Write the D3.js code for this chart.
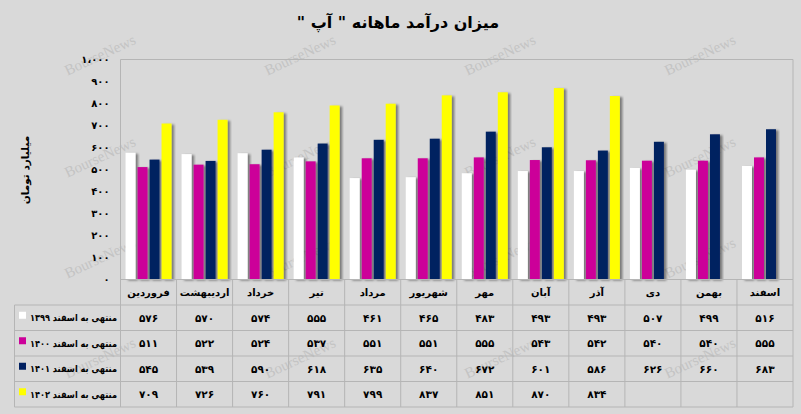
<!DOCTYPE html>
<html><head><meta charset="utf-8">
<script src="https://cdn.jsdelivr.net/npm/d3@7"></script>
<style>
html,body{margin:0;padding:0;background:#d9d9d9;}
svg{display:block;}
text{font-family:"DejaVu Sans",sans-serif;font-weight:bold;fill:#000;}
</style></head>
<body>
<svg id="chart" width="801" height="414"></svg>
<script>
const title = 'میزان درآمد ماهانه " آپ "';
const yTitle = "میلیارد تومان";
const months = ["فروردین","اردیبهشت","خرداد","تیر","مرداد","شهریور","مهر","آبان","آذر","دی","بهمن","اسفند"];
const seriesNames = ["منتهی به اسفند ۱۳۹۹","منتهی به اسفند ۱۴۰۰","منتهی به اسفند ۱۴۰۱","منتهی به اسفند ۱۴۰۲"];
const s1399 = [576,570,574,555,461,465,483,493,493,507,499,516];
const s1400 = [511,522,524,537,551,551,555,543,542,540,540,555];
const s1401 = [545,539,590,618,635,640,672,601,586,626,660,683];
const s1402 = [709,726,760,791,799,837,851,870,834,null,null,null];
const yTicks = [0,100,200,300,400,500,600,700,800,900,1000];
const colors = ["#ffffff","#cc0099","#002060","#ffff00"];

const seriesVals = [s1399,s1400,s1401,s1402];
const fa = s => String(s).replace(/[0-9]/g, d => "۰۱۲۳۴۵۶۷۸۹"[+d]).replace(/,/g,"،");

const svg = d3.select("#chart");
const W = 801, H = 414;
const plotL = 120.5, plotR = 793, plotT = 59.5, plotB = 279.5;
const tableL = 14.5, rowH = 25.5;

svg.append("rect").attr("width",W).attr("height",H).attr("fill","#d9d9d9");

// watermark
const wm = svg.append("g");
[100,300,500,700].forEach(cx => [55,157,258,358].forEach(cy => {
  wm.append("text").attr("transform",`translate(${cx},${cy}) rotate(-25)`)
    .attr("text-anchor","middle").attr("dominant-baseline","central")
    .style("font-family","'Liberation Serif',serif").style("font-weight","normal")
    .style("font-size","15px").style("fill","#c4c4c4").text("BourseNews");
}));

const defs = svg.append("defs");
const f = defs.append("filter").attr("id","sh").attr("x","-20%").attr("y","-5%").attr("width","160%").attr("height","110%");
f.append("feDropShadow").attr("dx",2.5).attr("dy",1).attr("stdDeviation",1.2)
  .attr("flood-color","#000").attr("flood-opacity",0.45);

const x = d3.scaleBand().domain(months).range([plotL, plotR]);
const x1 = d3.scaleBand().domain(d3.range(4)).range([0, x.bandwidth()]).paddingInner(0.17).paddingOuter(0.42);
const y = d3.scaleLinear().domain([0,1000]).range([plotB, plotT]);

// title
svg.append("text").attr("x",398).attr("y",22).attr("text-anchor","middle")
  .attr("dominant-baseline","central").attr("direction","rtl")
  .style("font-size","16px").text(title);

// y title
svg.append("text").attr("transform",`translate(25,170) rotate(-90)`)
  .attr("text-anchor","middle").attr("dominant-baseline","central")
  .style("font-size","10.5px").text(yTitle);

// y axis labels
const yAxis = d3.axisLeft(y).tickValues(yTicks).tickSize(0).tickPadding(11).tickFormat(d => fa(d3.format(",")(d)));
const ya = svg.append("g").attr("transform",`translate(${plotL},0)`).call(yAxis);
ya.select(".domain").remove();
ya.selectAll("text").style("font-size","10px").style("font-family","'DejaVu Sans',sans-serif").style("font-weight","bold");

// plot border
svg.append("path").attr("d",`M${plotL},${plotT}H${plotR}V${plotB}`).attr("fill","none").attr("stroke","#b5b5b5");

// bars
const gb = svg.append("g");
seriesVals.forEach((vals, si) => {
  gb.selectAll(null).data(vals.map((v,i)=>({m:months[i],v})).filter(d=>d.v!=null)).join("rect")
    .attr("x", d => x(d.m) + x1(si)).attr("width", x1.bandwidth())
    .attr("y", d => y(d.v)).attr("height", d => plotB - y(d.v))
    .attr("fill", colors[si]).attr("filter","url(#sh)");
});

// table
const tb = svg.append("g");
const tableB = plotB + rowH*5;
const lineC = "#b5b5b5";
tb.append("line").attr("x1",plotL).attr("x2",plotR).attr("y1",plotB).attr("y2",plotB).attr("stroke",lineC);
for (let r=1;r<=5;r++){
  tb.append("line").attr("x1",tableL).attr("x2",plotR).attr("y1",plotB+rowH*r).attr("y2",plotB+rowH*r).attr("stroke",lineC);
}
tb.append("line").attr("x1",tableL).attr("x2",tableL).attr("y1",plotB+rowH).attr("y2",tableB).attr("stroke",lineC);
tb.append("line").attr("x1",plotL).attr("x2",plotL).attr("y1",plotT).attr("y2",tableB).attr("stroke",lineC);
months.forEach(m => {
  const xx = x(m)+x.bandwidth();
  tb.append("line").attr("x1",xx).attr("x2",xx).attr("y1",plotB).attr("y2",tableB).attr("stroke",lineC);
});
months.forEach(m => {
  tb.append("text").attr("x",x(m)+x.bandwidth()/2).attr("y",plotB+rowH/2)
    .attr("text-anchor","middle").attr("dominant-baseline","central").style("font-size","10px").text(m);
});
seriesVals.forEach((vals, si) => {
  const cy = plotB + rowH*(si+1) + rowH/2;
  tb.append("rect").attr("x",19).attr("y",cy-6).attr("width",7).attr("height",7).attr("fill",colors[si]);
  tb.append("text").attr("x",117).attr("y",cy).attr("text-anchor","end")
    .attr("dominant-baseline","central").attr("textLength",87).attr("lengthAdjust","spacingAndGlyphs")
    .style("font-size","9.5px").text(seriesNames[si]);
  vals.forEach((v,i) => {
    if (v==null) return;
    tb.append("text").attr("x",x(months[i])+x.bandwidth()/2).attr("y",cy)
      .attr("text-anchor","middle").attr("dominant-baseline","central").style("font-size","10.5px").text(fa(v));
  });
});
</script>
</body></html>
